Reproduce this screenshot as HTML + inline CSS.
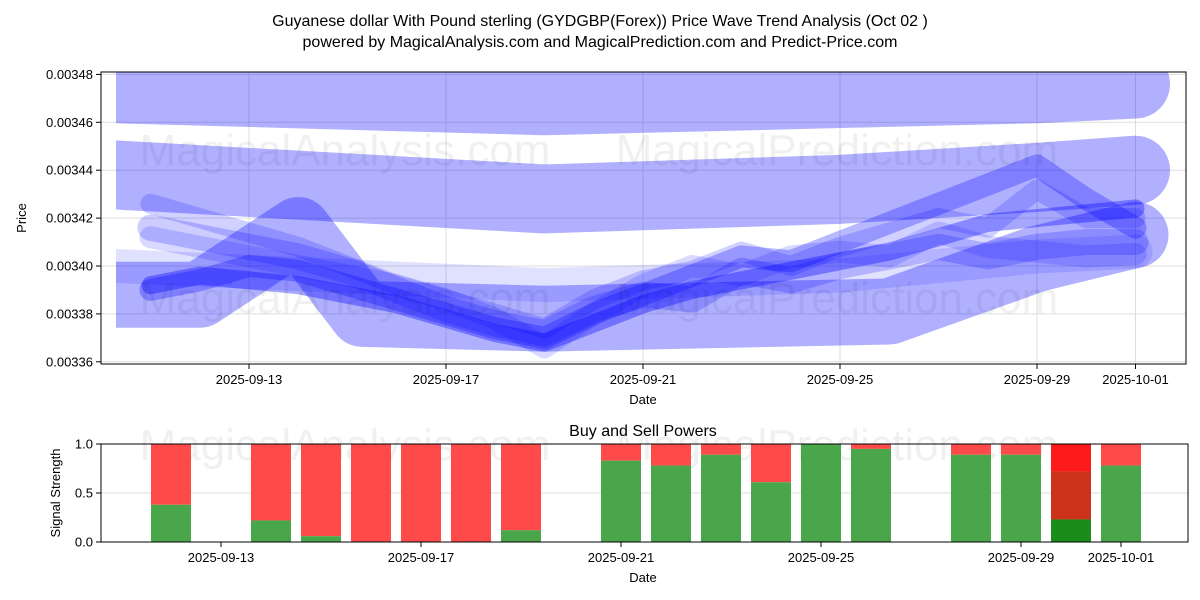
<!DOCTYPE html>
<html><head><meta charset="utf-8"><style>
body{margin:0;background:#fff;}
svg{display:block;font-family:"Liberation Sans","DejaVu Sans",sans-serif;}
</style></head><body>
<svg id="chart" width="1200" height="600" viewBox="0 0 1200 600" xmlns="http://www.w3.org/2000/svg">
<defs>
<clipPath id="bandClip"><rect x="116" y="72" width="1070" height="292"/></clipPath>
<clipPath id="axClip"><rect x="101" y="72" width="1085" height="292"/></clipPath>
</defs>
<rect width="1200" height="600" fill="#fff"/>
<text x="600" y="26" font-size="16" text-anchor="middle">Guyanese dollar With Pound sterling (GYDGBP(Forex)) Price Wave Trend Analysis (Oct 02 )</text>
<text x="600" y="47" font-size="16" text-anchor="middle">powered by MagicalAnalysis.com and MagicalPrediction.com and Predict-Price.com</text>
<g id="topPanel">
<g id="bandLayer" clip-path="url(#bandClip)"></g>
<g id="waveLayer" clip-path="url(#axClip)"></g>
</g>
<g id="botPanel"></g>
</svg>
<script>
// ---- data ----
const bandDates = [[10.3, 19, 25, 29, 31],[10.3, 19, 25, 29, 31],[10.3, 12, 14, 15.3, 19, 26, 29, 31],[10.3, 19, 25, 29, 31]];
const bandValues = [
  [0.003474, 0.003469, 0.003472, 0.003474, 0.003476],
  [0.003438, 0.003428, 0.003432, 0.003437, 0.003440],
  [0.003388, 0.003388, 0.003415, 0.003380, 0.003378, 0.003381, 0.003403, 0.003413],
  [0.003400, 0.003392, 0.003396, 0.003404, 0.003406]
];
const waveDays = [11,12,13,14,15,16,17,18,19,20,21,22,23,24,25,26,27,28,29,30,31];
const wave1 = [0.003392,0.003396,0.003394,0.003392,0.003388,0.003384,0.003378,0.003372,0.003368,0.003376,0.003384,0.003390,0.003394,0.003398,0.003402,0.003406,0.003412,0.003418,0.003420,0.003422,0.003424];
const wave2 = [0.003390,0.003394,0.003400,0.003398,0.003392,0.003386,0.003380,0.003374,0.003370,0.003380,0.003388,0.003396,0.003404,0.003402,0.003410,0.003418,0.003426,0.003434,0.003442,0.003428,0.003416];
const wave3 = [0.003416,0.003412,0.003408,0.003404,0.003398,0.003390,0.003382,0.003376,0.003372,0.003382,0.003388,0.003386,0.003398,0.003394,0.003400,0.003404,0.003408,0.003404,0.003408,0.003410,0.003410];
const wave4 = [0.003426,0.003420,0.003414,0.003408,0.003400,0.003392,0.003386,0.003380,0.003374,0.003386,0.003394,0.003398,0.003406,0.003400,0.003408,0.003414,0.003420,0.003416,0.003432,0.003420,0.003420];
const wave5 = [0.003412,0.003408,0.003404,0.003400,0.003396,0.003392,0.003386,0.003378,0.003366,0.003380,0.003392,0.003400,0.003396,0.003404,0.003406,0.003404,0.003414,0.003408,0.003406,0.003404,0.003405];
const priceTicks = [0.00336,0.00338,0.00340,0.00342,0.00344,0.00346,0.00348];
const tickDays = [13,17,21,25,29,31];
const tickLabels = ["2025-09-13","2025-09-17","2025-09-21","2025-09-25","2025-09-29","2025-10-01"];
const barDays = [12,14,15,16,17,18,19,21,22,23,24,25,26,28,29,30,31];
const buyPower = [0.38,0.22,0.06,0,0,0,0.12,0.83,0.78,0.89,0.61,1.0,0.95,0.89,0.89,0.23,0.78];
const sigTicks = [0,0.5,1.0];
// ---- scales ----
const NS='http://www.w3.org/2000/svg';
function mk(tag, attrs, parent){const e=document.createElementNS(NS,tag);for(const k in attrs)e.setAttribute(k,attrs[k]);parent.appendChild(e);return e;}
const xT = d => 249 + (d-13)*49.25;
const yT = v => 266 - (v-0.00340)/0.00002*47.9;
const xB = d => 221 + (d-13)*50;
const yB = s => 542 - s*98;
const topG=document.getElementById('topPanel'), botG=document.getElementById('botPanel');
const bandG=document.getElementById('bandLayer'), waveG=document.getElementById('waveLayer');
priceTicks.forEach(v=>{const l=mk('line',{x1:101,x2:1186,y1:yT(v),y2:yT(v),stroke:'#ddd','stroke-width':1},topG);

});
tickDays.forEach(d=>{const l=mk('line',{x1:xT(d),x2:xT(d),y1:72,y2:364,stroke:'#ddd','stroke-width':1},topG);

});
topG.insertBefore(waveG, null); topG.insertBefore(bandG, waveG);
[[345,150,'MagicalAnalysis.com'],[837,150,'MagicalPrediction.com'],[345,298,'MagicalAnalysis.com'],[837,298,'MagicalPrediction.com']].forEach(w=>{
const t=mk('text',{x:w[0],y:w[1]+15,'font-size':44,'text-anchor':'middle',fill:'#000','fill-opacity':0.06},topG);t.textContent=w[2];

});
const bandW=[69,69,66,34], bandA=[0.31,0.31,0.31,0.12];
bandValues.forEach((vals,i)=>{
 const pts=vals.map((v,j)=>xT(bandDates[i][j])+','+yT(v)).join(' ');
 const p=mk('polyline',{points:pts,fill:'none',stroke:'#0000ff','stroke-opacity':bandA[i],'stroke-width':bandW[i],'stroke-linejoin':'round','stroke-linecap':'round'},bandG);
 
 
});
const waves=[wave5,wave4,wave3,wave2,wave1], waveW=[22,20,26,22,18], waveA=[0.15,0.18,0.2,0.28,0.35];
waves.forEach((vals,i)=>{
 const pts=vals.map((v,j)=>xT(waveDays[j])+','+yT(v)).join(' ');
 const p=mk('polyline',{points:pts,fill:'none',stroke:'#0000ff','stroke-opacity':waveA[i],'stroke-width':waveW[i],'stroke-linejoin':'round','stroke-linecap':'round'},waveG);
 
 
});
const fr=mk('rect',{x:101,y:72,width:1085,height:292,fill:'none',stroke:'#000','stroke-width':1},topG);


priceTicks.forEach(v=>{mk('line',{x1:96,x2:101,y1:yT(v),y2:yT(v),stroke:'#000'},topG);
const t=mk('text',{x:93,y:yT(v)+4.5,'font-size':13,'text-anchor':'end'},topG);t.textContent=v.toFixed(5);

});
tickDays.forEach((d,i)=>{mk('line',{x1:xT(d),x2:xT(d),y1:364,y2:369,stroke:'#000'},topG);
const t=mk('text',{x:xT(d),y:384,'font-size':13,'text-anchor':'middle'},topG);t.textContent=tickLabels[i];

});
let t=mk('text',{x:643,y:404,'font-size':13,'text-anchor':'middle'},topG);t.textContent='Date';


t=mk('text',{x:26,y:218,'font-size':13,'text-anchor':'middle',transform:'rotate(-90 26 218)'},topG);t.textContent='Price';


sigTicks.forEach(s=>{const l=mk('line',{x1:101,x2:1188,y1:yB(s),y2:yB(s),stroke:'#ddd'},botG);

});
[[345,445,'MagicalAnalysis.com'],[837,445,'MagicalPrediction.com']].forEach(w=>{
const tt=mk('text',{x:w[0],y:w[1]+15,'font-size':44,'text-anchor':'middle',fill:'#000','fill-opacity':0.06},botG);tt.textContent=w[2];

});
barDays.forEach((d,i)=>{
 const b=buyPower[i], x=xB(d)-20;
 if(d===30){
  const r1=mk('rect',{x:x,y:yB(1),width:40,height:yB(0.72)-yB(1),fill:'#ff1a1a'},botG);
  
  
  const r2=mk('rect',{x:x,y:yB(0.72),width:40,height:yB(b)-yB(0.72),fill:'#cc3319'},botG);
  
  
  const r3=mk('rect',{x:x,y:yB(b),width:40,height:yB(0)-yB(b),fill:'#1a8c1a'},botG);
  
  
  return;
 }
 const rs=mk('rect',{x:x,y:yB(1),width:40,height:yB(b)-yB(1),fill:'#ff4a4a'},botG);
 
 
 const rb=mk('rect',{x:x,y:yB(b),width:40,height:yB(0)-yB(b),fill:'#4aa64a'},botG);
 
 
});
const fr2=mk('rect',{x:101,y:444,width:1087,height:98,fill:'none',stroke:'#000'},botG);


sigTicks.forEach(s=>{mk('line',{x1:96,x2:101,y1:yB(s),y2:yB(s),stroke:'#000'},botG);
const tt=mk('text',{x:93,y:yB(s)+4.5,'font-size':13,'text-anchor':'end'},botG);tt.textContent=s.toFixed(1);

});
tickDays.forEach((d,i)=>{mk('line',{x1:xB(d),x2:xB(d),y1:542,y2:547,stroke:'#000'},botG);
const tt=mk('text',{x:xB(d),y:562,'font-size':13,'text-anchor':'middle'},botG);tt.textContent=tickLabels[i];

});
t=mk('text',{x:643,y:582,'font-size':13,'text-anchor':'middle'},botG);t.textContent='Date';


t=mk('text',{x:60,y:493,'font-size':13,'text-anchor':'middle',transform:'rotate(-90 60 493)'},botG);t.textContent='Signal Strength';


t=mk('text',{x:643,y:436,'font-size':16,'text-anchor':'middle'},botG);t.textContent='Buy and Sell Powers';


</script>
</body></html>
